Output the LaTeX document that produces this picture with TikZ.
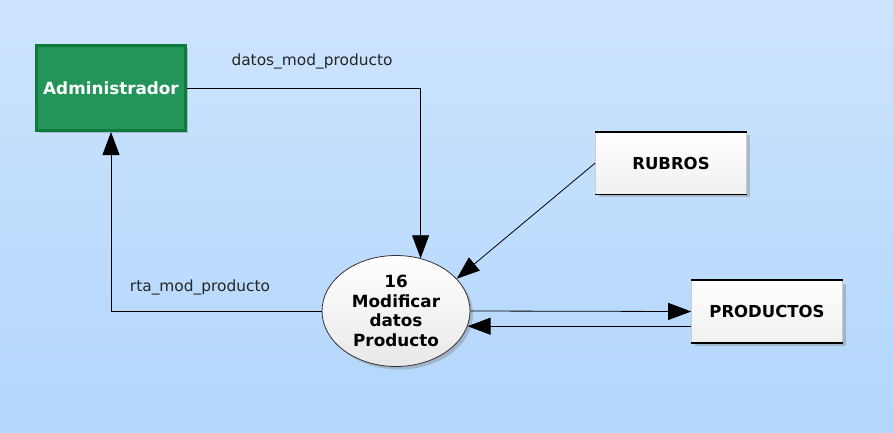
\documentclass[tikz,border=0pt]{standalone}
\usepackage{fontspec}
\setmainfont{DejaVu Sans}
\usetikzlibrary{arrows.meta,shadows,positioning,shapes.geometric}

\definecolor{fondoarriba}{RGB}{205,228,254}
\definecolor{fondoabajo}{RGB}{178,214,252}
\definecolor{verdeadm}{RGB}{36,149,88}
\definecolor{bordeadm}{RGB}{14,122,60}

\tikzset{
  externo/.style={rectangle, fill=verdeadm, draw=bordeadm, line width=3pt,
    minimum width=149pt, minimum height=85pt, text=white,
    font=\fontsize{16.8}{20}\selectfont\bfseries,
    drop shadow={shadow xshift=2pt,shadow yshift=-2pt,fill=gray,opacity=0.4}},
  almacen/.style={rectangle, draw=gray!40, line width=0.6pt,
    top color=white, bottom color=gray!12,
    minimum width=151pt, minimum height=62pt,
    font=\fontsize{16.5}{20}\selectfont\bfseries,
    drop shadow={shadow xshift=3pt,shadow yshift=-3pt,fill=gray,opacity=0.4}},
  proceso/.style={ellipse, draw=black!80, line width=0.8pt,
    top color=white, bottom color=gray!18, inner sep=0pt,
    minimum width=148pt, minimum height=111pt, align=center,
    font=\fontsize{16.8}{19.5}\selectfont\bfseries,
    drop shadow={shadow xshift=3pt,shadow yshift=-3pt,fill=gray,opacity=0.4}},
  flujo/.style={-{Triangle[length=23pt,width=17pt]}, line width=0.8pt},
  etiqueta/.style={font=\fontsize{15.4}{18}\selectfont, text=black!85}
}

\begin{document}
\begin{tikzpicture}[x=1pt,y=-1pt]
    \useasboundingbox (0,0) rectangle (893,432);
    \fill[top color=fondoarriba, bottom color=fondoabajo] (0,0) rectangle (893,432);

    % entidades y almacenes
    \node[externo] (admin) at (111,88) {Administrador};
    \node[almacen] (rubros) at (671,163) {RUBROS};
    \node[almacen] (productos) at (767,311.5) {PRODUCTOS};
    \foreach \n in {rubros,productos}
        \draw[line width=1.6pt] (\n.north west) -- (\n.north east)
            (\n.south west) -- (\n.south east);

    % proceso
    \node[proceso] (proc) at (396,311) {16\\Modificar\\datos\\Producto};

    % flujos
    \draw[flujo] (admin.east) -| (proc.65);
    \draw[flujo] (proc.west) -| (admin.south);
    \draw[flujo] (rubros.west) -- (proc.28);
    \draw[flujo] (proc.east) -- (productos.west);
    \draw[flujo] (productos.west |- proc.-12) -- (proc.-12);

    \node[etiqueta] (lbldatos) at (312,61) {datos\_mod\_producto};
    \node[etiqueta] (lblrta) at (200,287) {rta\_mod\_producto};
\end{tikzpicture}
\end{document}
